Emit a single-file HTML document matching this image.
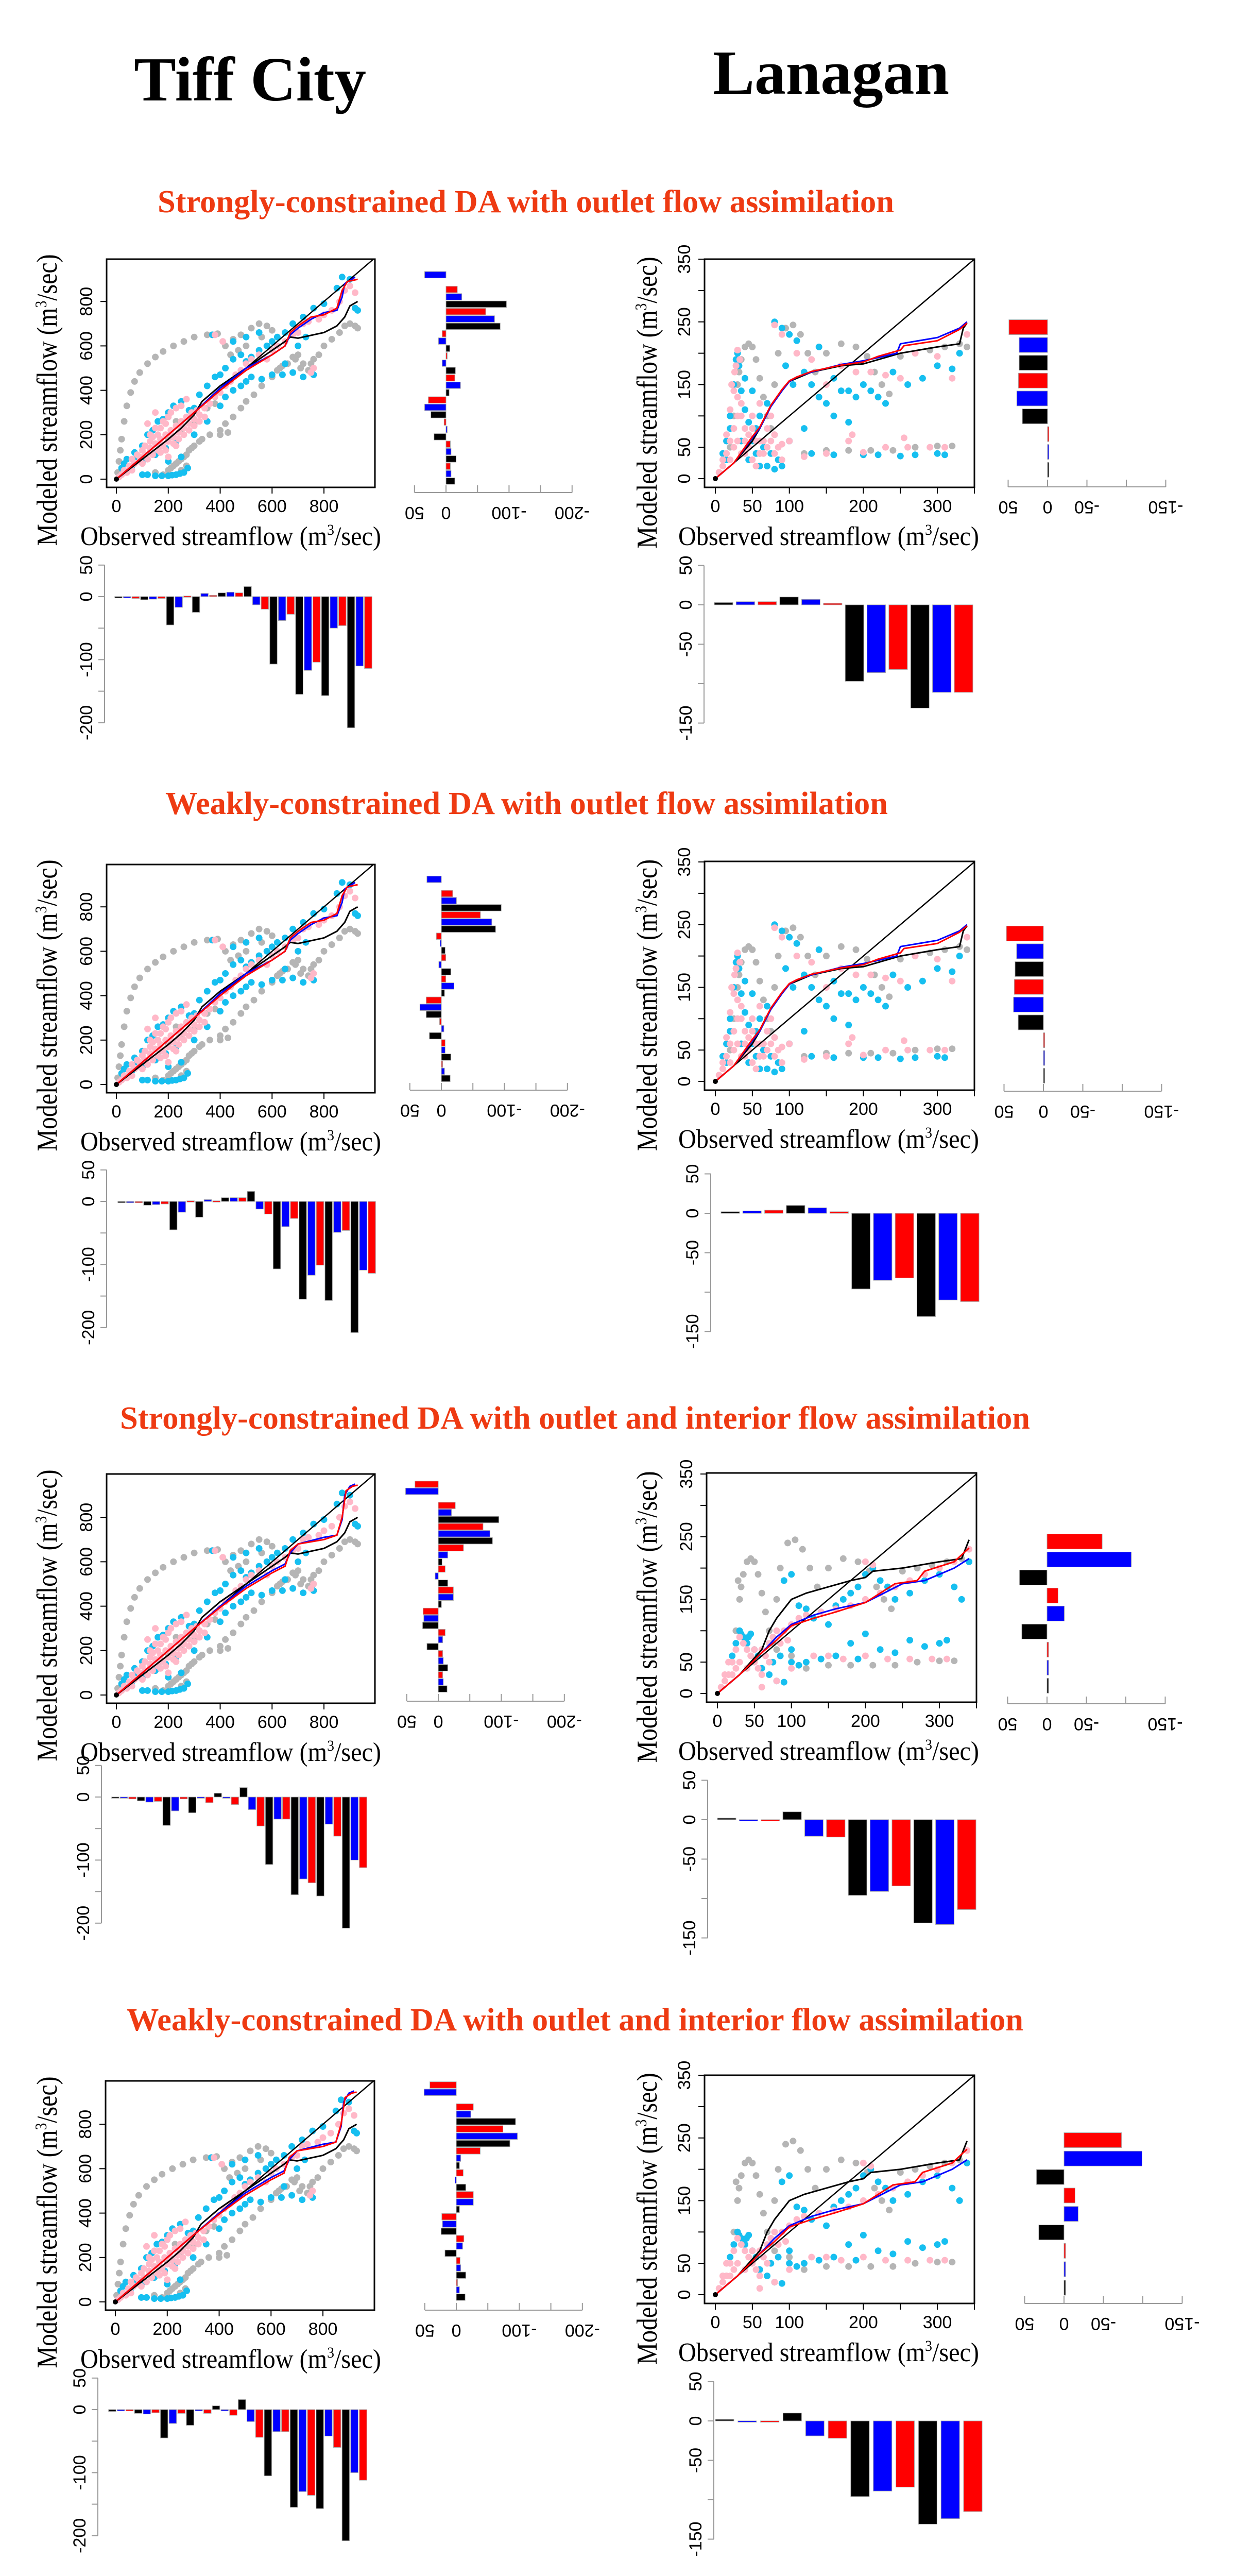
<!DOCTYPE html>
<html>
<head>
<meta charset="utf-8">
<style>
html,body{margin:0;padding:0;background:#fff;width:2398px;height:5230px;overflow:hidden;}
svg{display:block;}
</style>
</head>
<body>
<svg id="fig" xmlns="http://www.w3.org/2000/svg" width="2398" height="5230" viewBox="0 0 2398 5230" overflow="hidden">
<rect x="0" y="0" width="2398" height="5230" fill="#fff"/>
<text x="260" y="195" font-family="Liberation Serif, serif" font-weight="bold" font-size="122" textLength="451" lengthAdjust="spacingAndGlyphs">Tiff City</text>
<text x="1384" y="182" font-family="Liberation Serif, serif" font-weight="bold" font-size="122" textLength="459" lengthAdjust="spacingAndGlyphs">Lanagan</text>
<g>
  <ellipse cx="237" cy="5119" rx="23" ry="24" fill="#808080"/>
  <rect x="301" y="5095" width="115" height="48" fill="#000"/>
  <text x="477" y="5137" font-family="Liberation Serif, serif" font-size="56" textLength="219" lengthAdjust="spacingAndGlyphs">Open Loop</text>
  <ellipse cx="1032" cy="5119" rx="23" ry="24" fill="#00b0f0"/>
  <rect x="1096" y="5095" width="115" height="48" fill="#0033cc"/>
  <text x="1274" y="5137" font-family="Liberation Serif, serif" font-size="56" textLength="95" lengthAdjust="spacingAndGlyphs">VAR</text>
  <ellipse cx="1755" cy="5119" rx="23" ry="24" fill="#ff99ff"/>
  <rect x="1820" y="5095" width="115" height="48" fill="#ff0000"/>
  <text x="1995" y="5137" font-family="Liberation Serif, serif" font-size="56" textLength="138" lengthAdjust="spacingAndGlyphs">MVAR</text>
</g>
</svg>
<script>
// ---------- Tiff City scatter data (observed, modeled) ----------
const tiffGray = [[5,30],[10,80],[15,130],[20,180],[30,260],[40,330],[55,390],[70,440],[90,480],[120,520],[150,550],[180,575],[220,600],[260,620],[300,640],[350,650],[390,655],
[420,600],[450,630],[480,650],[520,680],[550,700],[580,690],[600,670],[560,640],[500,600],[470,580],[440,560],
[200,40],[220,60],[240,80],[260,100],[280,130],[300,150],[330,180],[360,200],[400,220],[420,250],[450,280],[480,320],[500,350],[530,380],[560,420],[600,460],[630,500],[660,520],[680,550],[700,560],[720,520],[740,490],[760,540],[780,560],[800,600],[830,630],[860,660],[880,690],[900,700],[920,690],[930,680],[150,30],[180,20],[250,40],[270,60],[300,250],[350,320],[380,340],[400,200],[430,210],[200,180],[250,220],[230,260],[170,150],[210,50],[230,70],[250,90],[270,110],[290,140],[320,170],[620,490],[640,510],[690,540],[710,500],[750,520]];
const tiffCyan = [[20,50],[40,90],[60,60],[80,100],[100,150],[120,200],[140,220],[160,260],[180,270],[200,300],[220,330],[250,350],[280,310],[300,320],[320,380],[350,420],[370,650],[380,460],[400,470],[420,500],[450,540],[480,560],[500,530],[520,550],[550,580],[580,600],[600,620],[620,640],[650,660],[680,700],[720,730],[760,770],[800,790],[850,860],[870,910],[900,900],[920,770],[930,760],[100,20],[150,15],[200,15],[230,20],[260,30],[275,50],[200,80],[250,100],[300,200],[350,260],[400,330],[420,370],[450,400],[480,420],[500,440],[520,460],[560,450],[600,470],[640,470],[680,480],[720,460],[760,470],[700,600],[730,640],[600,580],[650,520],[450,620],[500,640],[550,660],[120,20],[175,15],[215,18],[245,25],[30,70],[70,120],[110,90],[150,110],[190,140],[230,170]];
const tiffPink = [[10,10],[30,40],[50,60],[60,90],[80,110],[100,130],[110,150],[130,170],[140,190],[160,200],[170,230],[190,250],[200,280],[210,300],[230,320],[250,330],[270,360],[100,70],[120,90],[140,110],[160,130],[180,150],[200,170],[220,190],[240,210],[260,230],[280,250],[300,270],[320,290],[340,320],[360,340],[380,370],[400,390],[420,420],[440,440],[460,470],[480,490],[500,520],[520,540],[550,560],[580,540],[600,580],[620,600],[650,620],[680,650],[700,660],[720,700],[740,710],[760,500],[750,480],[780,720],[800,740],[830,760],[860,800],[880,850],[900,870],[920,840],[150,300],[120,250],[200,100],[230,150],[380,650],[410,620],[60,40],[90,80],[130,120],[170,160],[210,200],[250,240],[290,280],[20,20],[40,30],[70,70],[90,100],[110,110],[130,140],[150,160],[170,180],[190,200],[210,220],[230,240],[250,260],[270,280],[290,300],[310,310],[150,230],[180,260],[130,200],[170,120],[190,130],[220,160],[240,180],[260,200],[280,220],[300,240],[320,260],[340,280]];
// Tiff City cumulative curves
const tiffOL = [[0,0],[100,90],[200,180],[250,230],[300,290],[330,350],[400,420],[500,500],[550,540],[600,580],[650,620],[670,640],[700,635],[800,660],[850,690],[880,730],[900,780],[930,800]];
const tiffVAR12 = [[0,0],[100,100],[200,200],[300,300],[400,410],[500,500],[600,560],[650,600],[670,650],[700,680],[750,720],[800,750],[850,760],[870,820],[880,880],[920,910]];
const tiffMVAR12 = [[0,0],[100,100],[200,200],[300,300],[400,400],[500,490],[600,560],[650,600],[670,660],[700,690],[750,730],[800,740],[850,770],[870,850],[890,890],[930,900]];
const tiffVAR34 = [[0,0],[100,100],[200,200],[300,300],[400,400],[500,490],[600,560],[650,590],[670,640],[700,680],[800,710],[850,720],[870,790],[880,900],[900,940],[920,950]];
const tiffMVAR34 = [[0,0],[100,100],[200,200],[300,300],[400,395],[500,480],[600,550],[650,580],[670,650],[700,680],[800,700],[850,720],[870,800],[885,920],[910,940],[930,945]];
// ---------- Lanagan scatter data ----------
const lanGray = [[20,50],[25,100],[30,150],[35,190],[40,210],[45,215],[50,210],[55,190],[60,160],[65,130],[70,100],[75,80],[80,150],[85,200],[95,240],[105,245],[115,230],[125,200],[135,170],[150,200],[170,215],[190,210],[205,195],[215,170],[225,150],[235,135],[250,195],[270,200],[290,205],[310,210],[330,215],[340,210],[120,40],[150,45],[180,45],[210,45],[240,45],[270,50],[300,52],[320,52],[100,60],[60,40],[80,70],[28,180],[32,170]];
const lanCyan12 = [[15,30],[20,80],[25,150],[28,190],[30,200],[32,180],[35,140],[40,110],[45,90],[50,60],[55,40],[60,20],[70,20],[80,15],[90,20],[80,250],[90,240],[100,230],[110,220],[95,180],[105,150],[120,170],[130,150],[140,130],[150,120],[160,160],[170,140],[180,140],[190,130],[200,150],[210,140],[220,130],[230,120],[240,170],[260,150],[280,160],[300,180],[320,175],[330,200],[140,210],[160,100],[180,90],[120,80],[100,60],[130,40],[160,38],[200,38],[220,38],[250,36],[270,38],[300,40],[310,38],[60,100],[70,120],[50,140],[40,160],[10,40],[15,60],[20,100],[35,60],[45,30],[55,80],[65,50],[75,40],[85,30]];
const lanPink12 = [[5,10],[10,20],[15,40],[20,60],[25,80],[30,100],[25,140],[28,180],[30,205],[33,190],[35,120],[40,80],[45,50],[50,30],[55,20],[60,40],[65,60],[70,80],[75,100],[80,70],[85,50],[90,30],[100,60],[20,30],[40,40],[50,100],[60,120],[80,245],[90,230],[110,200],[130,190],[150,150],[170,180],[190,170],[210,170],[230,165],[250,160],[270,200],[300,195],[320,160],[340,230],[120,35],[150,40],[180,60],[200,42],[230,50],[260,50],[290,50],[310,50],[185,70],[255,65],[10,30],[15,70],[20,110],[22,150],[26,170],[30,130],[35,100],[40,60],[45,70],[50,80],[55,60],[60,60],[65,40],[70,50],[75,60],[80,40],[90,55],[25,50],[30,60],[35,40]];
const lanCyan34 = [[20,60],[25,80],[30,100],[35,90],[40,80],[45,95],[50,70],[55,60],[60,40],[70,30],[80,20],[90,18],[100,50],[90,180],[100,190],[110,140],[120,135],[130,120],[140,130],[150,110],[160,140],[170,150],[180,160],[190,170],[200,190],[210,200],[220,180],[230,170],[240,150],[260,160],[280,180],[300,190],[320,170],[330,150],[340,210],[120,50],[140,55],[160,60],[180,80],[190,55],[200,95],[220,70],[240,65],[260,85],[280,75],[300,80],[310,85],[100,70],[110,45],[75,50],[85,60],[32,95],[38,85],[42,90]];
const lanPink34 = [[5,10],[10,20],[15,30],[20,50],[25,70],[30,90],[35,80],[40,70],[45,60],[50,50],[55,40],[60,30],[65,60],[70,80],[75,90],[80,100],[90,100],[100,110],[110,120],[120,125],[140,130],[160,135],[180,140],[200,150],[220,160],[240,170],[260,180],[280,190],[300,200],[320,210],[340,230],[200,210],[210,205],[130,60],[150,60],[170,55],[200,60],[230,55],[260,55],[290,55],[310,55],[60,10],[80,20],[100,40],[10,30],[20,30],[30,50],[40,40],[50,70],[60,70],[70,50],[85,80],[95,85],[15,50],[25,40]];
// Lanagan cumulative curves
const lanOL12 = [[0,0],[25,25],[50,60],[60,80],[75,115],[90,140],[100,155],[110,160],[130,170],[170,180],[200,183],[250,200],[300,210],[330,215],[335,240],[340,248]];
const lanVAR12 = [[0,0],[25,25],[50,65],[60,80],[75,115],[90,140],[100,155],[110,162],[130,170],[170,182],[200,188],[220,193],[245,200],[250,215],[300,225],[330,240],[340,250]];
const lanMVAR12 = [[0,0],[25,25],[50,67],[60,82],[75,117],[90,142],[100,156],[110,162],[130,171],[170,181],[200,186],[220,195],[250,205],[255,212],[300,220],[330,238],[340,248]];
const lanOL34 = [[0,0],[30,30],[60,70],[70,100],[80,120],[100,150],[120,160],[150,170],[180,180],[200,185],[210,195],[250,200],[300,210],[330,215],[340,245]];
const lanVAR34 = [[0,0],[30,30],[60,65],[80,90],[100,110],[130,125],[160,135],[200,145],[250,175],[280,180],[320,200],[340,215]];
const lanMVAR34 = [[0,0],[30,30],[60,65],[80,85],[100,108],[130,120],[160,130],[200,145],[240,175],[270,180],[280,195],[320,210],[340,232]];
// ---------- Side bar (horizontal) data, top to bottom: red, blue, black repeating ----------
const tiffSide1 = [0,34,0,-18,-25,-96,-63,-77,-86,6,12,-6,-1,6,-15,-14,-23,-5,28,34,24,3,-2,19,-7,-8,-16,-7,-8,-14];
const tiffSide2 = [0,23,0,-18,-24,-95,-62,-80,-86,8,2,-6,-7,4,-15,-7,-20,-5,24,34,24,3,-4,19,-6,-6,-15,-2,-5,-14];
const tiffSide3 = [37,52,0,-27,-21,-96,-71,-82,-86,-40,-15,-6,-11,5,-15,-24,-24,-5,24,23,25,-11,-7,18,-7,-8,-15,-7,-8,-14];
const tiffSide4 = [42,51,0,-27,-23,-94,-74,-97,-85,-38,-7,-5,-11,2,-15,-27,-27,-5,23,22,24,-12,-10,18,-6,-7,-15,-2,-5,-14];
const lanSide1 = [49,36,36,37,39,32,-1,-1,-1];
const lanSide2 = [47,34,36,37,38,32,-1,-1,-1];
const lanSide3 = [-70,-107,35,-14,-22,32,-2,-2,-2];
const lanSide4 = [-73,-99,35,-14,-18,32,-2,-2,-2];
// ---------- Bottom bar (vertical) data, left to right: black, blue, red repeating ----------
const tiffBottom1 = [-2,-2,-3,-5,-4,-3,-45,-17,1,-25,5,2,6,7,6,16,-13,-20,-107,-38,-28,-155,-117,-104,-157,-50,-46,-208,-110,-114];
const tiffBottom2 = [-2,-1,-1,-6,-5,-4,-45,-17,1,-25,3,1,6,6,6,16,-12,-20,-107,-40,-27,-155,-117,-101,-157,-49,-46,-208,-109,-114];
const tiffBottom3 = [-2,-2,-3,-6,-8,-7,-45,-22,-3,-25,0,-9,6,-1,-12,15,-20,-46,-107,-35,-35,-155,-130,-136,-157,-43,-62,-208,-100,-112];
const tiffBottom4 = [-3,-1,-1,-6,-7,-5,-45,-22,-6,-25,-2,-6,6,-1,-9,16,-19,-44,-105,-35,-35,-155,-130,-136,-157,-42,-60,-208,-100,-112];
const lanBottom1 = [3,4,4,10,7,2,-97,-86,-82,-131,-111,-111];
const lanBottom2 = [2,3,4,10,7,2,-96,-85,-82,-131,-110,-112];
const lanBottom3 = [2,0,-1,10,-21,-22,-96,-91,-84,-131,-133,-114];
const lanBottom4 = [2,0,0,10,-19,-22,-96,-89,-84,-131,-124,-115];
// tick labels
const tiffTicks = [0,200,400,600,800];
const lanTickPos = [0,50,100,150,200,250,300,350];
const lanYLabels = [0,50,150,250,350];
const lanXLabels = [0,50,100,200,300];
const tiffSideTicks = [50,0,-50,-100,-150,-200];
const tiffSideLabels = [50,0,-100,-200];
const lanSideTicks = [50,0,-50,-100,-150];
const lanSideLabels = [50,0,-50,-150];
const blockTitles = ["Strongly-constrained DA with outlet flow assimilation","Weakly-constrained DA with outlet flow assimilation","Strongly-constrained DA with outlet and interior flow assimilation","Weakly-constrained DA with outlet and interior flow assimilation"];

// ---------- layout (pixel geometry, not data) ----------
const layout = [
 {title:[306,1736,412], tb:[207,503,728,946], lb:[1368,503,1892,946], ts:[866,956,519,14.3], ls:[2034,945,635,34.6], tbt:[203,1158,230,715], lbt:[1367,1174,1405,1871]},
 {title:[321,1724,1580], tb:[207,1678,728,2121], lb:[1368,1672,1892,2116], ts:[857,2116,1693,13.8], ls:[2026,2118,1812,34.5], tbt:[207,2332,236,722], lbt:[1380,2355,1418,1883]},
 {title:[233,2000,2773], tb:[207,2861,728,3306], lb:[1372,2859,1896,3304], ts:[851,3302,2881,13.7], ls:[2033,3307,2992,35], tbt:[197,3488,224,705], lbt:[1374,3532,1411,1877]},
 {title:[246,1987,3941], tb:[205,4039,727,4484], lb:[1368,4028,1892,4471], ts:[886,4484,4047,14.2], ls:[2066,4471,4154,35.8], tbt:[190,4677,218,705], lbt:[1386,4699,1407,1889]}
];
const tiffSides=[tiffSide1,tiffSide2,tiffSide3,tiffSide4];
const lanSides=[lanSide1,lanSide2,lanSide3,lanSide4];
const tiffBottoms=[tiffBottom1,tiffBottom2,tiffBottom3,tiffBottom4];
const lanBottoms=[lanBottom1,lanBottom2,lanBottom3,lanBottom4];

const NS="http://www.w3.org/2000/svg";
const svg=document.getElementById('fig');
function mk(tag,parent){const e=document.createElementNS(NS,tag);parent.appendChild(e);return e;}
function sa(e,o){for(const k in o)e.setAttribute(k,o[k]);return e;}
const SANS="Liberation Sans, sans-serif", SERIF="Liberation Serif, serif";
const sideColors=['#ff0000','#0000ff','#000000'];
const botColors=['#000000','#0000ff','#ff0000'];
const sideNames=['mvar','var','open-loop'];
const botNames=['open-loop','var','mvar'];

function scatterPanel(g,box,xs,ys,site,pts,lines,b){
  const [L,T,R,B]=box;
  const X=v=>L+(site==='tiff'?19:21)+v*xs;
  const Y=v=>B-(site==='tiff'?16:17)-v*ys;
  const cid='clip-'+site+b;
  const cp=mk('clipPath',g); cp.setAttribute('id',cid);
  sa(mk('rect',cp),{x:L,y:T,width:R-L,height:B-T});
  const pg=mk('g',g); pg.setAttribute('clip-path','url(#'+cid+')');
  
  
  const cols=['#b5b5b5','#16bff0','#ffb8c8'];
  const nm=['open-loop-points','var-points','mvar-points'];
  pts.forEach((arr,i)=>{
    const sg=mk('g',pg);
    
    
    arr.forEach(p=>{
      const c=mk('circle',sg);
      sa(c,{cx:X(p[0]).toFixed(1),cy:Y(p[1]).toFixed(1),r:6.5,fill:cols[i]});
      
      
    });
  });
  const one=mk('line',pg);
  sa(one,{x1:X(0),y1:Y(0),x2:X(1000),y2:Y(1000),stroke:'#000','stroke-width':2.5});
  
  
  const lc=['#000','#0000ff','#ff0000'];
  const ln=['open-loop-line','var-line','mvar-line'];
  lines.forEach((arr,i)=>{
    const pl=mk('polyline',pg);
    sa(pl,{points:arr.map(p=>X(p[0]).toFixed(1)+','+Y(p[1]).toFixed(1)).join(' '),fill:'none',stroke:lc[i],'stroke-width':3});
    
    
  });
  const dot=mk('circle',pg); sa(dot,{cx:X(0),cy:Y(0),r:5,fill:'#000'});
  
  
  const bx=mk('rect',g);
  sa(bx,{x:L,y:T,width:R-L,height:B-T,fill:'none',stroke:'#000','stroke-width':3});
  
  
  const tickPos = site==='tiff'?tiffTicks:lanTickPos;
  const ylabs = site==='tiff'?tiffTicks:lanYLabels;
  const xlabs = site==='tiff'?tiffTicks:lanXLabels;
  tickPos.forEach(v=>{
    const ty=mk('line',g); sa(ty,{x1:L,x2:L-12,y1:Y(v),y2:Y(v),stroke:'#000','stroke-width':2});
    
    
    const tx=mk('line',g); sa(tx,{x1:X(v),x2:X(v),y1:B,y2:B+12,stroke:'#000','stroke-width':2});
    
    
  });
  if(site==='lan'){const tx=mk('line',g); sa(tx,{x1:R,x2:R,y1:B,y2:B+12,stroke:'#000','stroke-width':2});
    
    }
  ylabs.forEach(v=>{
    const lx=L-40, ly=Y(v);
    const t=mk('text',g); t.textContent=v;
    sa(t,{x:lx,y:ly,'font-family':SANS,'font-size':34,'text-anchor':'middle',transform:'rotate(-90 '+lx+' '+ly+')',dy:12});
    
    
  });
  xlabs.forEach(v=>{
    const t=mk('text',g); t.textContent=v;
    sa(t,{x:X(v),y:B+48,'font-family':SANS,'font-size':34,'text-anchor':'middle'});
    
    
  });
  const xt=mk('text',g);
  const xcx= site==='tiff'?448:1609;
  sa(xt,{x:xcx-292,y:B+112,'font-family':SERIF,'font-size':52,textLength:584,lengthAdjust:'spacingAndGlyphs'});
  xt.innerHTML='Observed streamflow (m<tspan font-size="30" dy="-20">3</tspan><tspan dy="20">/sec)</tspan>';
  
  
  const ycx = site==='tiff'?92:1257, ycy=(T+B)/2+(site==='tiff'?52:57);
  const yt=mk('text',g);
  sa(yt,{'font-family':SERIF,'font-size':56,textLength:566,lengthAdjust:'spacingAndGlyphs',transform:'rotate(-90 '+ycx+' '+ycy+')',x:ycx-283,y:ycy+18});
  yt.innerHTML='Modeled streamflow (m<tspan font-size="32" dy="-20">3</tspan><tspan dy="20">/sec)</tspan>';
  
  
}

function sidePanel(g,geo,vals,scale,ticks,labels,barH,site){
  const [zx,ay,s0,step]=geo;
  const X=v=>zx - v*scale;
  const tmin=Math.min(...ticks), tmax=Math.max(...ticks);
  const ax=mk('line',g); sa(ax,{x1:X(tmax),x2:X(tmin),y1:ay,y2:ay,stroke:'#999','stroke-width':2});
  
  
  ticks.forEach(v=>{const t=mk('line',g); sa(t,{x1:X(v),x2:X(v),y1:ay,y2:ay-14,stroke:'#999','stroke-width':2});
    
    });
  labels.forEach(v=>{const lx=X(v), ly=ay+40; const t=mk('text',g); t.textContent=v;
    sa(t,{x:lx,y:ly,'font-family':SANS,'font-size':34,'text-anchor':'middle',transform:'rotate(180 '+lx+' '+ly+')',dy:12});
    
    });
  vals.forEach((v,i)=>{
    if(v===0) return;
    const cy=s0+i*step, x1=X(0), x2=X(v);
    const r=mk('rect',g);
    sa(r,{x:Math.min(x1,x2),y:cy-barH/2,width:Math.max(Math.abs(x2-x1),2.5),height:barH,fill:sideColors[i%3],stroke:'#aaa','stroke-width':1});
    
    
  });
}

function bottomPanel(g,geo,vals,scale,ticks,labels,barW,site){
  const [axX,zy,first,last]=geo;
  const step=(last-first)/(vals.length-1);
  const Y=v=>zy - v*scale;
  const tmin=Math.min(...ticks), tmax=Math.max(...ticks);
  const ax=mk('line',g); sa(ax,{x1:axX,x2:axX,y1:Y(tmax),y2:Y(tmin),stroke:'#999','stroke-width':2});
  
  
  ticks.forEach(v=>{const t=mk('line',g); sa(t,{x1:axX,x2:axX-12,y1:Y(v),y2:Y(v),stroke:'#999','stroke-width':2});
    
    });
  labels.forEach(v=>{const lx=axX-36, ly=Y(v); const t=mk('text',g); t.textContent=v;
    sa(t,{x:lx,y:ly,'font-family':SANS,'font-size':34,'text-anchor':'middle',transform:'rotate(-90 '+lx+' '+ly+')',dy:12});
    
    });
  vals.forEach((v,i)=>{
    const cx=first+i*step, y1=Y(0), y2=Y(v);
    const r=mk('rect',g);
    sa(r,{x:cx-barW/2,y:Math.min(y1,y2),width:barW,height:Math.max(Math.abs(y2-y1),2.5),fill:botColors[i%3],stroke:'#aaa','stroke-width':1});
    
    
  });
}

layout.forEach((Lo,b)=>{
  const g=mk('g',svg);
  
  
  const tt=mk('text',g); tt.textContent=blockTitles[b];
  sa(tt,{x:Lo.title[0],y:Lo.title[2],'font-family':SERIF,'font-weight':'bold','font-size':62,fill:'#ee3a12',textLength:Lo.title[1]-Lo.title[0],lengthAdjust:'spacingAndGlyphs'});
  
  

  const tg=mk('g',g);
  
  
  const late=b>=2;
  scatterPanel(tg,Lo.tb,0.5038,0.431,'tiff',[tiffGray,tiffCyan,tiffPink],[tiffOL,late?tiffVAR34:tiffVAR12,late?tiffMVAR34:tiffMVAR12],b);
  const lg=mk('g',g);
  
  
  scatterPanel(lg,Lo.lb,1.437,1.217,'lan',[lanGray,late?lanCyan34:lanCyan12,late?lanPink34:lanPink12],[late?lanOL34:lanOL12,late?lanVAR34:lanVAR12,late?lanMVAR34:lanMVAR12],b);

  const ts=mk('g',g);
  
  
  sidePanel(ts,Lo.ts,tiffSides[b],1.224,tiffSideTicks,tiffSideLabels,12.5,'tiff');
  const ls=mk('g',g);
  
  
  sidePanel(ls,Lo.ls,lanSides[b],1.53,lanSideTicks,lanSideLabels,29,'lan');

  const tb=mk('g',g);
  
  
  bottomPanel(tb,Lo.tbt,tiffBottoms[b],1.224,tiffSideTicks,tiffSideLabels,14.5,'tiff');
  const lb=mk('g',g);
  
  
  bottomPanel(lb,Lo.lbt,lanBottoms[b],1.53,lanSideTicks,lanSideLabels,36,'lan');
});
</script>
</body>
</html>
